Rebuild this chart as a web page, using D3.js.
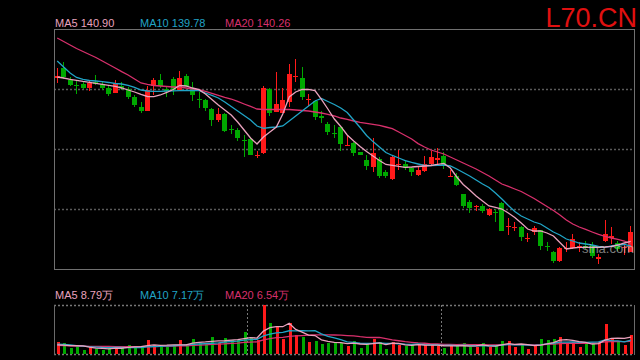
<!DOCTYPE html>
<html lang="zh">
<head>
  <meta charset="UTF-8">
  <title>L70.CN</title>
  <style>
    html, body { margin: 0; padding: 0; background: #000; }
    svg { display: block; }
    text { font-family: "Liberation Sans", Arial, sans-serif; }
  </style>
</head>
<body>
  <svg></svg>
  <script src="https://cdn.jsdelivr.net/npm/d3@7/dist/d3.min.js"></script>
  <script>
    var width = 640
    var height = 360

    // daily prices
    var open = [181.75,184.17,181.32,179.92,180.25,179.32,180.75,180.25,179.25,178.07,
      179.75,178.92,176.92,174.57,173.57,179.82,181.32,179.0,181.5,178.75,
      182.25,179.0,176.62,176.25,174.0,171.25,172.75,169.0,168.82,166.37,
      166.5,162.42,163.0,179.0,173.17,173.0,175.82,182.07,181.75,176.17,
      176.07,172.32,170.25,167.92,169.57,164.82,165.5,163.25,161.25,159.57,
      161.5,158.32,156.5,160.0,160.25,159.17,157.57,158.57,160.25,161.32,
      162.17,157.17,157.17,152.75,150.82,149.57,149.75,147.57,148.17,150.5,
      144.57,144.25,144.42,141.5,143.17,143.75,139.67,138.32,136.07,139.0,
      139.17,139.42,139.75,140.0,136.5,141.07,141.67,140.42,139.17,138.32]
    var high = [184.17,185.67,181.92,181.07,180.67,181.07,182.5,180.82,179.67,181.25,
      180.82,179.42,177.5,175.82,179.82,181.67,182.75,179.67,181.92,183.57,
      182.75,180.67,178.17,176.5,174.17,174.17,173.0,170.0,169.17,167.5,
      166.92,163.57,179.67,179.17,183.32,179.17,185.25,186.5,184.42,177.75,
      176.32,173.57,170.82,170.0,169.57,167.32,165.67,163.25,162.5,166.67,
      161.92,158.67,162.32,163.82,161.32,159.42,159.42,162.32,163.57,164.25,
      163.17,158.75,158.0,152.75,151.32,150.0,150.25,149.17,149.0,150.67,
      146.67,145.82,144.67,143.0,144.67,143.75,140.67,138.57,139.42,140.67,
      142.75,140.75,141.0,140.67,137.75,146.25,144.42,141.07,140.25,144.67]
    var low = [180.42,181.5,179.67,177.75,179.0,178.57,180.0,178.82,177.32,178.07,
      178.75,176.42,174.57,173.0,173.5,177.5,179.17,177.12,177.57,178.75,
      179.42,176.07,174.17,173.57,169.82,170.82,168.32,167.75,166.07,162.07,
      162.5,161.67,162.82,172.17,173.17,173.0,174.57,180.82,176.25,174.82,
      171.32,170.5,167.5,166.67,163.57,164.82,162.32,162.57,158.82,158.17,
      156.67,156.67,156.25,158.82,158.82,157.32,157.32,158.17,160.07,160.25,
      159.0,157.17,154.82,149.25,148.0,148.57,147.92,147.17,145.82,143.42,
      142.57,143.42,141.07,140.67,142.57,138.82,138.57,135.42,135.67,138.32,
      139.0,138.25,139.0,136.82,135.25,140.67,140.25,138.57,137.5,138.32]
    var close = [182.25,182.07,180.07,179.75,179.25,180.42,180.25,179.32,177.82,180.42,
      179.37,177.07,175.07,173.57,178.82,181.32,179.82,178.57,178.75,181.75,
      179.82,177.57,176.37,174.32,171.32,172.75,168.57,168.82,166.67,166.12,
      162.57,162.57,179.25,172.92,175.25,176.25,182.75,182.32,177.07,176.5,
      172.07,171.67,168.17,167.67,165.25,165.0,162.92,162.57,159.82,162.92,
      157.32,157.17,162.07,160.25,159.17,158.32,158.75,160.25,162.07,161.67,
      159.67,157.32,155.07,149.82,149.25,149.82,148.5,149.0,147.92,143.57,
      144.82,144.5,142.07,141.75,144.17,139.82,139.42,136.07,139.25,139.17,
      141.5,139.67,139.5,137.32,137.07,142.67,142.32,139.0,139.42,143.32]

    var ma5 = [182.0,181.75,181.38,181.13,180.88,180.68,180.38,180.13,179.88,179.63,
      179.25,178.75,178.25,177.63,177.13,177.08,177.5,178.13,178.88,179.88,
      179.75,179.25,178.83,177.75,176.38,175.0,173.75,172.5,170.75,168.75,
      166.75,165.25,167.0,168.25,169.5,172.75,177.0,178.25,178.88,178.93,
      178.58,176.38,174.0,171.5,169.63,167.5,166.0,164.63,163.38,162.25,
      161.13,160.13,159.88,159.63,159.43,159.5,159.63,159.75,159.88,160.13,
      160.38,159.25,157.0,155.13,153.75,152.25,151.0,149.75,149.38,149.0,
      148.0,146.88,145.5,144.0,143.5,143.5,143.0,142.25,140.63,139.0,
      139.25,139.43,139.43,139.43,139.43,139.5,139.68,140.0,140.5,140.90]
    var ma10 = [186.0,184.5,183.0,181.88,181.38,181.13,181.0,180.83,180.63,180.38,
      180.25,179.88,179.38,178.75,178.5,178.43,178.43,178.5,178.55,178.58,
      178.63,178.63,178.58,178.0,177.38,176.75,175.75,174.63,173.5,172.38,
      171.25,169.75,169.18,169.38,169.5,169.75,171.0,172.25,173.5,174.75,
      176.0,176.63,175.88,175.13,174.25,173.13,171.25,169.38,167.38,165.85,
      164.5,163.13,162.38,161.75,161.08,160.63,160.25,159.88,159.88,159.93,
      160.0,159.75,159.0,158.13,157.25,156.25,155.25,154.38,153.0,151.5,
      149.88,148.38,147.25,146.5,145.75,145.25,144.25,143.25,142.5,141.5,
      141.0,140.5,140.25,140.0,139.63,139.43,139.75,140.0,140.13,139.78]
    var ma20 = [191.75,190.88,190.0,189.13,188.38,187.63,186.88,186.0,185.13,184.25,
      183.33,182.5,181.5,180.5,180.13,179.88,179.75,179.63,179.5,179.5,
      179.25,179.0,178.83,178.38,177.88,177.38,176.88,176.5,175.88,175.25,
      174.63,174.0,173.88,173.88,173.88,173.88,173.88,173.75,173.63,173.5,
      173.25,173.0,172.63,172.25,171.75,171.38,171.0,170.63,170.38,170.13,
      169.88,169.5,169.1,168.25,167.38,166.5,165.35,164.5,163.75,163.25,
      162.75,162.0,161.25,160.5,159.75,159.0,158.13,157.25,156.25,155.25,
      154.63,154.0,153.38,152.5,151.63,150.63,149.63,148.63,147.5,146.25,
      145.25,144.5,143.88,143.25,142.63,142.13,141.75,141.38,141.0,140.26]

    // volume in 万
    var volume = [6.2,5.7,3.1,3.8,2.1,3.5,2.8,2.1,3.1,4.2,
      3.0,4.7,3.5,3.5,7.3,4.5,3.8,3.8,4.5,7.3,
      5.0,7.8,5.9,5.6,8.8,5.9,8.3,7.3,7.3,11.4,
      8.2,7.3,25.5,16.1,14.2,8.0,16.0,9.9,9.0,6.2,
      6.8,5.2,5.9,5.9,5.9,4.2,6.8,3.1,5.0,7.8,
      6.2,2.6,6.2,4.7,4.2,4.7,4.7,4.7,4.7,4.2,
      3.1,4.2,4.7,5.7,3.6,3.6,5.7,3.6,4.2,6.8,
      6.8,3.6,4.7,2.6,4.2,7.8,7.3,7.8,8.8,5.6,
      6.2,3.6,5.6,5.2,6.2,15.6,7.8,6.2,4.7,9.9]
    var volMa5 = [4.7,4.6,4.4,4.3,4.2,3.6,3.1,2.9,2.7,3.1,
      3.0,3.4,3.7,3.8,4.4,4.7,4.5,4.6,4.8,4.8,
      4.8,5.7,6.1,6.3,6.6,6.8,6.9,7.2,7.5,8.0,
      8.5,8.3,11.9,13.7,14.2,14.2,16.0,12.8,11.4,9.8,
      9.6,7.4,6.6,6.0,5.9,5.4,5.7,5.2,5.0,5.4,
      5.8,4.9,5.6,5.5,4.8,4.5,4.9,4.6,4.6,4.6,
      4.3,4.2,4.2,4.3,4.1,4.2,4.7,4.2,4.1,4.8,
      5.4,5.0,5.2,4.9,4.4,4.6,5.3,5.9,7.2,7.5,
      7.1,6.4,6.0,5.2,5.4,7.2,8.1,8.2,8.1,8.79]
    var volMa10 = [5.1,5.0,4.7,4.4,4.1,3.8,3.6,3.4,3.3,3.4,
      3.4,3.3,3.3,3.3,3.7,3.9,4.0,4.2,4.3,4.6,
      4.8,5.0,5.2,5.4,5.6,5.8,6.2,6.5,6.7,7.2,
      7.5,7.6,9.4,10.4,11.0,11.3,12.1,12.0,12.1,12.0,
      12.2,10.5,9.2,8.4,7.5,6.3,6.1,5.6,5.5,5.6,
      5.8,5.5,5.5,5.3,5.1,5.0,5.2,4.9,4.8,4.8,
      4.5,4.6,4.4,4.6,4.4,4.3,4.4,4.3,4.3,4.6,
      4.9,4.7,4.7,4.6,4.5,4.7,5.3,5.6,6.2,6.2,
      6.3,6.1,6.0,6.2,6.3,7.3,7.0,6.8,6.3,7.17]
    var volMa20 = [4.5,4.4,4.3,4.2,4.1,4.0,4.0,3.9,3.9,3.8,
      3.8,3.8,3.8,3.8,3.9,3.9,4.0,4.0,4.1,4.2,
      4.3,4.5,4.6,4.8,5.0,5.1,5.3,5.5,5.7,6.0,
      6.2,6.3,7.4,8.0,8.5,8.7,9.2,9.4,9.6,9.8,
      10.0,10.0,10.0,9.9,9.8,9.6,9.4,9.0,8.7,8.6,
      8.6,8.0,7.4,6.9,6.4,6.1,5.8,5.6,5.3,5.2,
      5.0,5.0,4.9,5.0,4.9,4.9,4.9,4.8,4.8,4.9,
      5.0,4.9,4.9,4.8,4.7,4.8,5.0,5.1,5.4,5.5,
      5.6,5.6,5.6,5.7,5.8,6.3,6.4,6.4,6.4,6.54]

    // month separators (index of first day of month)
    var monthStarts = [30, 60]
    var title = "L70.CN"

    var upColor = "#ff1a1a"
    var downColor = "#00a800"
    var c5 = "#e9a2bd", c10 = "#20a4c6", c20 = "#d8306c"

    var svg = d3.select("svg").attr("width", width).attr("height", height)
    svg.append("rect").attr("width", width).attr("height", height).attr("fill", "#000")

    var left = 54, right = 634
    var idx = d3.range(close.length)
    var x = d3.scalePoint().domain(idx).range([left, right]).padding(0.5)
    var step = x.step()
    var y = d3.scaleLinear().domain([134, 194]).range([269, 29])
    var yv = d3.scaleLinear().domain([0, d3.max(volume)]).range([354, 305])

    // main panel grid
    var dom = y.domain()
    var gridVals = [0.25, 0.5, 0.75].map(f => dom[0] + f * (dom[1] - dom[0]))
    svg.append("g").selectAll("line").data(gridVals).join("line")
      .attr("x1", left).attr("x2", right)
      .attr("y1", d => Math.round(y(d)) + 0.5).attr("y2", d => Math.round(y(d)) + 0.5)
      .attr("stroke", "#5a5a5a").attr("stroke-width", 1.5).attr("stroke-dasharray", "2,2")

    svg.append("rect")
      .attr("x", left + 0.5).attr("y", 29.5).attr("width", right - left).attr("height", 240)
      .attr("fill", "none").attr("stroke", "#707070")

    // candles
    var candles = svg.append("g").attr("shape-rendering", "crispEdges")
      .selectAll("g").data(idx).join("g")
      .attr("fill", i => close[i] >= open[i] ? upColor : downColor)
      .attr("stroke", i => close[i] >= open[i] ? upColor : downColor)
    candles.append("line")
      .attr("x1", i => Math.floor(x(i)) + 0.5).attr("x2", i => Math.floor(x(i)) + 0.5)
      .attr("y1", i => Math.round(y(high[i]))).attr("y2", i => Math.round(y(low[i])))
    candles.append("rect")
      .attr("stroke", "none")
      .attr("x", i => Math.floor(x(i)) - 2).attr("width", 5)
      .attr("y", i => Math.round(y(Math.max(open[i], close[i]))))
      .attr("height", i => Math.max(1, Math.round(y(Math.min(open[i], close[i]))) - Math.round(y(Math.max(open[i], close[i])))))

    var line = d3.line().x((d, i) => x(i)).y(d => y(d))
    ;[[ma20, c20], [ma10, c10], [ma5, c5]].forEach(function (s) {
      svg.append("path").datum(s[0]).attr("d", line)
        .attr("fill", "none").attr("stroke", s[1]).attr("stroke-width", 1.3)
    })

    // watermark
    svg.append("text").attr("x", 582).attr("y", 253).text("sina.com")
      .attr("font-size", 13).attr("fill", "#cfcfcf").attr("opacity", 0.6)

    // legends
    function legend(yPos, items) {
      var t = svg.append("text").attr("y", yPos).attr("font-size", 11)
      items.forEach(function (it) {
        t.append("tspan").attr("x", it[0]).attr("fill", it[2]).text(it[1])
      })
    }
    legend(27, [[55, "MA5 " + ma5[ma5.length - 1].toFixed(2), c5],
      [140, "MA10 " + ma10[ma10.length - 1].toFixed(2), c10],
      [225, "MA20 " + ma20[ma20.length - 1].toFixed(2), c20]])
    legend(299, [[55, "MA5 " + volMa5[volMa5.length - 1].toFixed(2) + "万", c5],
      [140, "MA10 " + volMa10[volMa10.length - 1].toFixed(2) + "万", c10],
      [225, "MA20 " + volMa20[volMa20.length - 1].toFixed(2) + "万", c20]])

    svg.append("text").attr("x", 637).attr("y", 27).attr("text-anchor", "end")
      .attr("font-size", 27).attr("fill", "#e01010").text(title)

    // volume panel
    var vp = svg.append("g")
    ;[305, 354].forEach(function (yy) {
      vp.append("line").attr("x1", left).attr("x2", right).attr("y1", yy + 0.5).attr("y2", yy + 0.5)
        .attr("stroke", "#777").attr("stroke-dasharray", "2,2").attr("stroke-width", 1.5)
    })
    ;[left, right].forEach(function (xx) {
      vp.append("line").attr("x1", xx + 0.5).attr("x2", xx + 0.5).attr("y1", 305).attr("y2", 355)
        .attr("stroke", "#6a6a6a")
    })
    vp.selectAll(".sep").data(monthStarts).join("line")
      .attr("x1", d => Math.round(x(d) - step / 2) + 0.5).attr("x2", d => Math.round(x(d) - step / 2) + 0.5)
      .attr("y1", 305).attr("y2", 354)
      .attr("stroke", "#777").attr("stroke-dasharray", "2,2")

    vp.append("g").attr("shape-rendering", "crispEdges")
      .selectAll("rect").data(idx).join("rect")
      .attr("x", i => Math.floor(x(i))).attr("width", 3)
      .attr("y", i => Math.round(yv(volume[i])))
      .attr("height", i => 354 - Math.round(yv(volume[i])))
      .attr("fill", i => close[i] >= open[i] ? upColor : downColor)

    var vline = d3.line().x((d, i) => x(i)).y(d => yv(d))
    ;[[volMa20, c20], [volMa10, c10], [volMa5, c5]].forEach(function (s) {
      vp.append("path").datum(s[0]).attr("d", vline)
        .attr("fill", "none").attr("stroke", s[1]).attr("stroke-width", 1.3)
    })
  </script>
</body>
</html>
